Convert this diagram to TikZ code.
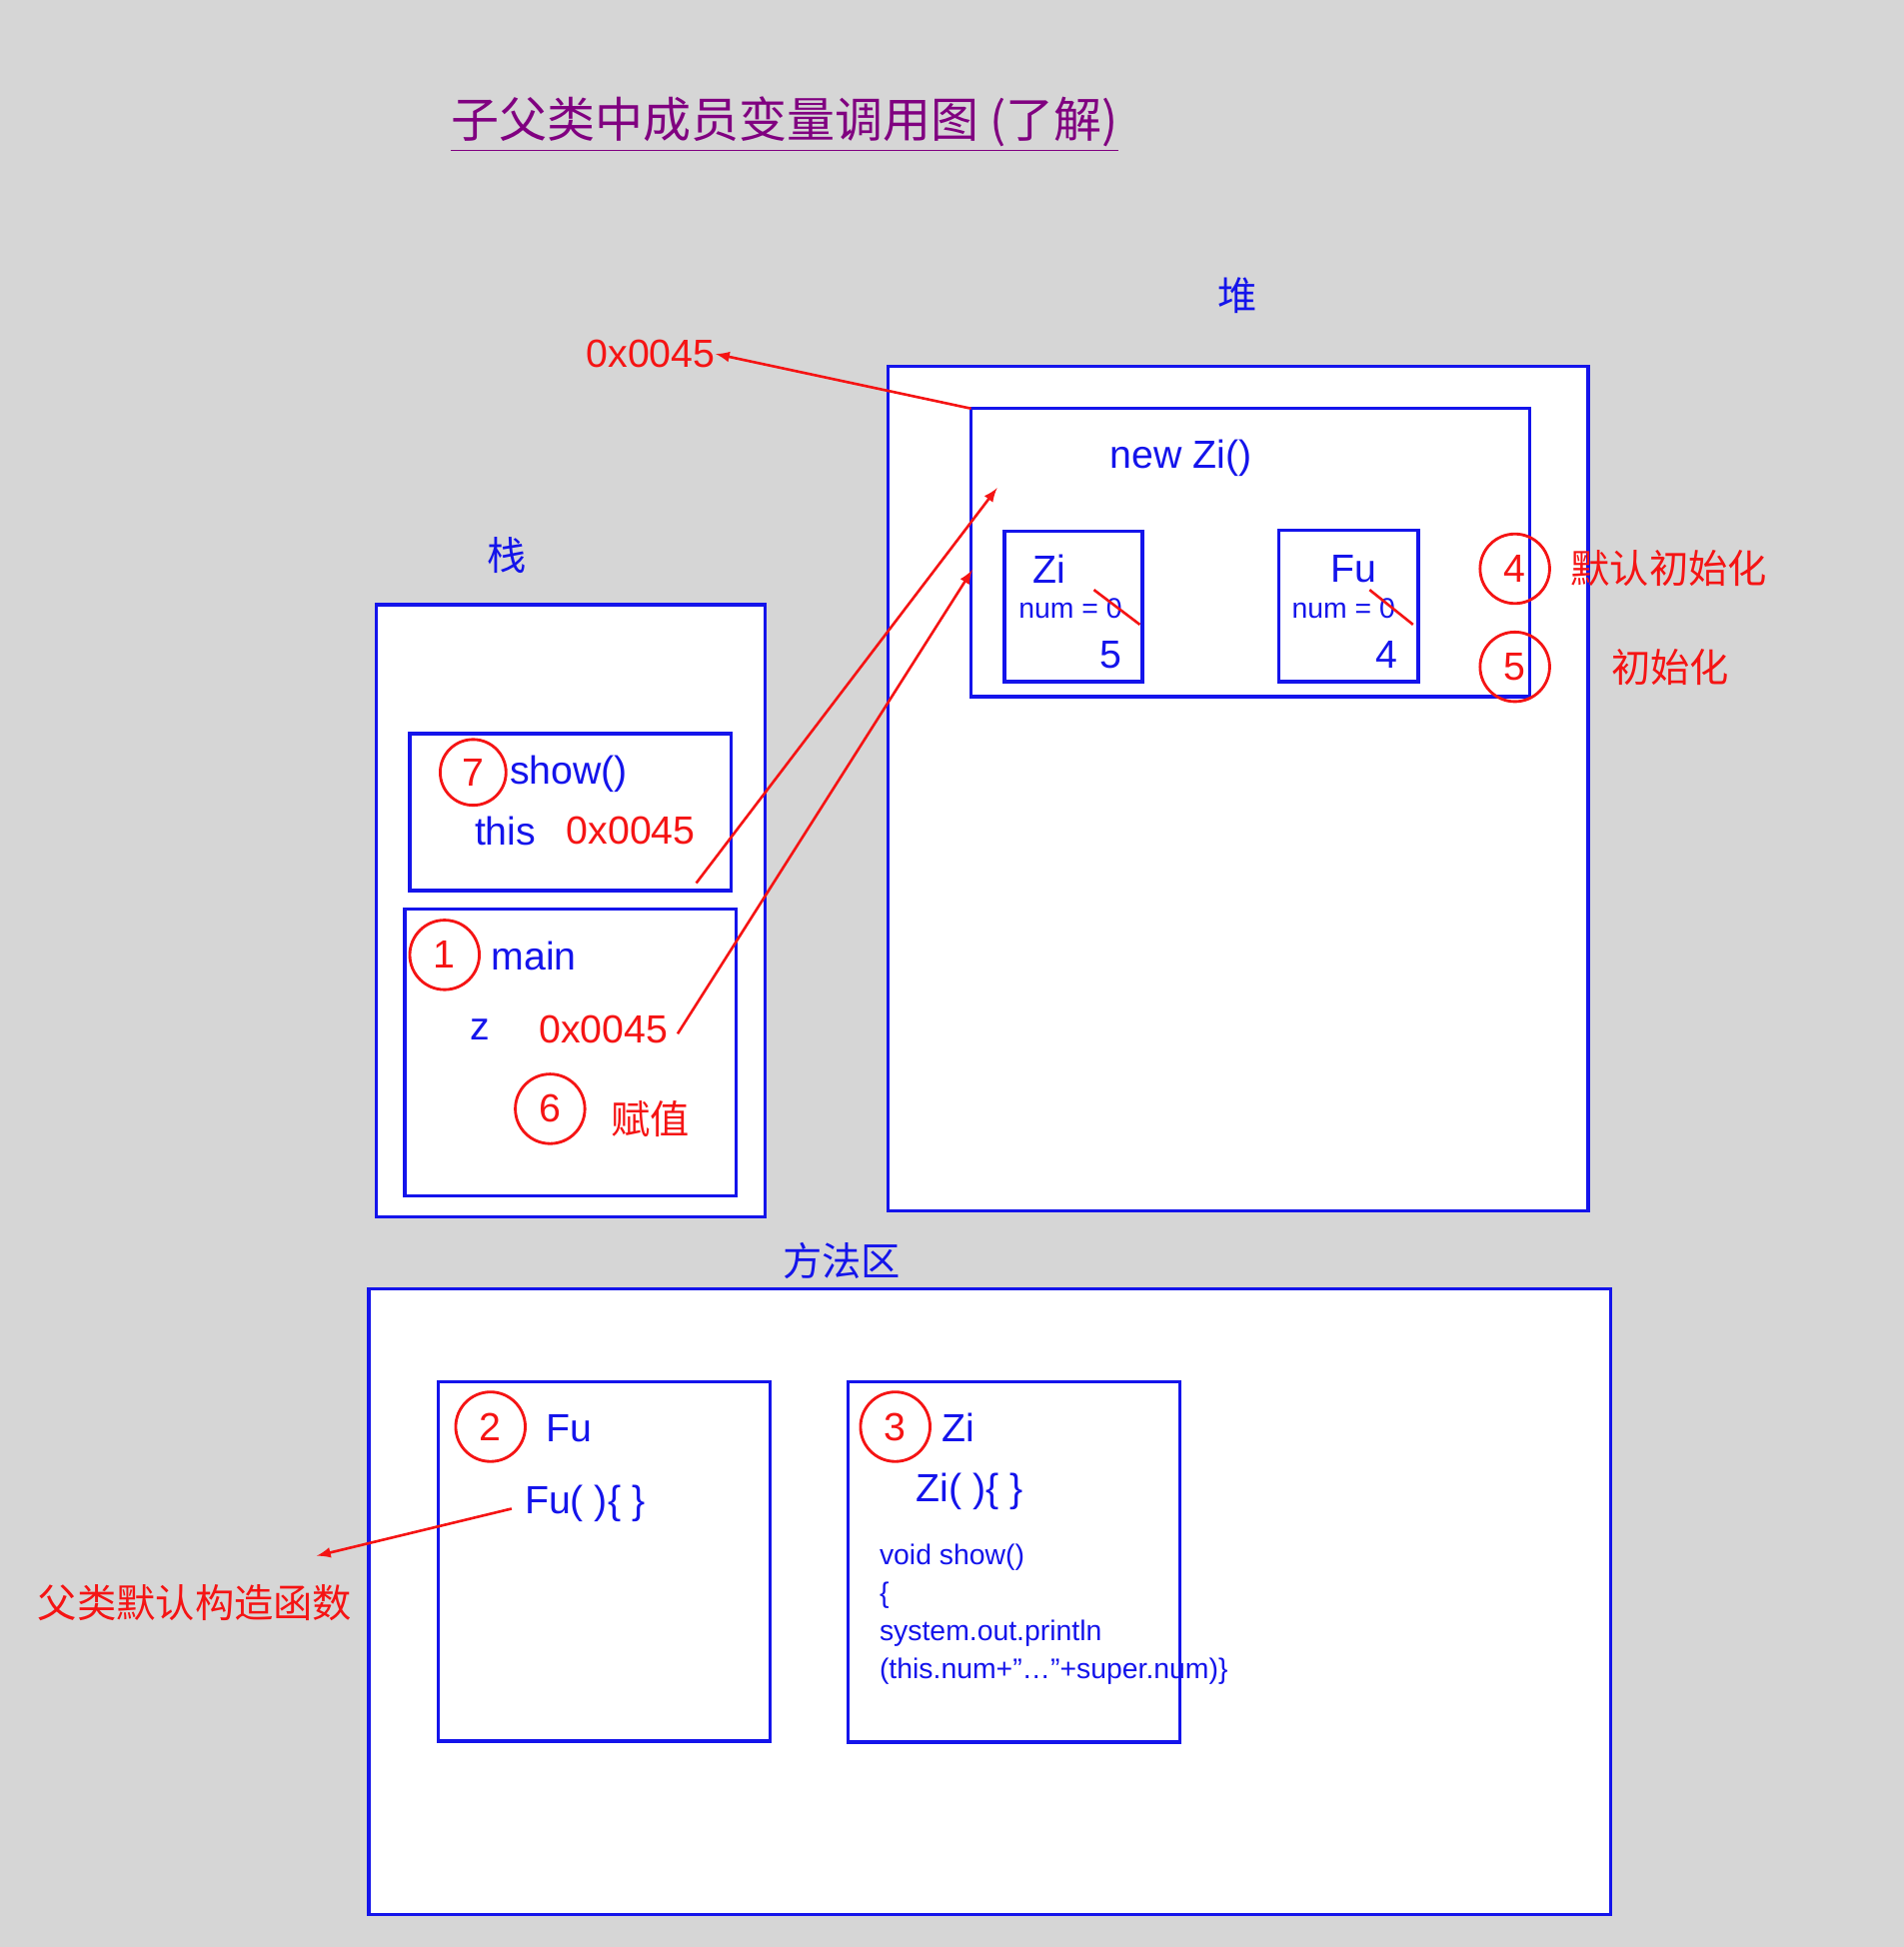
\documentclass[tikz,border=0pt]{standalone}
\usepackage{fontspec}
\setmainfont{Liberation Sans}
\newfontfamily\cjk{Noto Sans CJK SC}
\usetikzlibrary{positioning}
\definecolor{bgray}{RGB}{214,214,214}
\definecolor{mblue}{RGB}{20,20,235}
\definecolor{mred}{RGB}{245,20,20}
\definecolor{mpurple}{RGB}{128,0,128}
\begin{document}
\begin{tikzpicture}[x=0.02cm,y=-0.02cm]

  \tikzstyle{frame}=[draw=mblue,line width=1.6pt,fill=white]
  \tikzstyle{txt}=[text=mblue,font=\fontsize{18}{20}\selectfont,inner sep=0pt]
  \tikzstyle{small}=[text=mblue,font=\fontsize{13}{15}\selectfont,inner sep=0pt]
  \tikzstyle{rtxt}=[text=mred,font=\fontsize{18}{20}\selectfont,inner sep=0pt]
  \tikzstyle{num}=[circle,draw=mred,line width=1.3pt,text=mred,minimum size=1.12cm,inner sep=0pt,font=\fontsize{18}{20}\selectfont]
  \tikzstyle{ptr}=[draw=mred,line width=1.2pt,-latex]

  \fill [bgray] (0,0) rectangle (1533,1568);

  \node (title) at (632,100) [text=mpurple,font=\cjk\fontsize{22}{24}\selectfont] {\underline{子父类中成员变量调用图 (了解)}};

  % heap
  \node (heaplbl) at (997,238) [txt,font=\cjk\fontsize{18}{20}\selectfont] {堆};
  \draw [frame] (715,295) rectangle (1279,975);
  \draw [frame] (782,329) rectangle (1232,561);
  \coordinate (obj) at (782,329);
  \coordinate (objin1) at (803,393);
  \coordinate (objin2) at (783,459);
  \node (newzi) at (951,369) [txt] {new Zi()};
  \draw [frame] (809,428) rectangle (920,549);
  \draw [frame] (1030,427) rectangle (1142,549);
  \node (zi) at (845,458) [txt] {Zi};
  \node (zinum) at (862,490) [small] {num = 0};
  \node (zival) at (895,527) [txt] {5};
  \draw [mred,line width=1.2pt] (881,475) -- (918,503);
  \node (fu) at (1090,458) [txt] {Fu};
  \node (funum) at (1082,490) [small] {num = 0};
  \node (fuval) at (1117,527) [txt] {4};
  \draw [mred,line width=1.2pt] (1103,475) -- (1138,503);
  \node (c4) at (1220,458) [num] {4};
  \node (c5) at (1220,537) [num] {5};
  \node (c4lbl) at (1344,458) [rtxt,font=\cjk\fontsize{18}{20}\selectfont] {默认初始化};
  \node (c5lbl) at (1345,537) [rtxt,font=\cjk\fontsize{18}{20}\selectfont] {初始化};
  \node (addr) at (524,285) [rtxt] {0x0045};
  \draw [ptr] (obj) to (addr.east);

  % stack
  \node (stacklbl) at (408,447) [txt,font=\cjk\fontsize{18}{20}\selectfont] {栈};
  \draw [frame] (303,487) rectangle (616,980);
  \draw [frame] (330,591) rectangle (589,717);
  \node (c7) at (381,622) [num,minimum size=1.06cm] {7};
  \node (show) at (458,623) [txt] {show()};
  \node (this) at (407,669) [txt] {this};
  \node (thisaddr) at (508,669) [rtxt] {0x0045};
  \draw [frame] (326,732) rectangle (593,963);
  \node (c1) at (358,769) [num] {1};
  \node (main) at (430,770) [txt] {main};
  \node (z) at (387,829) [txt] {z};
  \node (zaddr) at (486,829) [rtxt] {0x0045};
  \node (c6) at (443,893) [num] {6};
  \node (c6lbl) at (524,901) [rtxt,font=\cjk\fontsize{18}{20}\selectfont] {赋值};
  \draw [ptr] ([xshift=30pt,yshift=-24pt]thisaddr.center) to (objin1);
  \draw [ptr] ([xshift=34pt,yshift=-2pt]zaddr.center) to (objin2);

  % method area
  \node (methlbl) at (678,1015) [txt,font=\cjk\fontsize{18}{20}\selectfont] {方法区};
  \draw [frame] (297,1038) rectangle (1297,1542);
  \draw [frame] (353,1113) rectangle (620,1402);
  \node (c2) at (395,1149) [num] {2};
  \node (fucls) at (458,1150) [txt] {Fu};
  \node (fuctor) at (471,1211) [txt] {Fu( )\{ \}};
  \node (fulbl) at (157,1291) [rtxt,font=\cjk\fontsize{18}{20}\selectfont] {父类默认构造函数};
  \coordinate (fufrom) at (412,1215);
  \coordinate (futo) at (255,1253);
  \draw [ptr] (fufrom) to (futo);
  \draw [frame] (683,1113) rectangle (950,1403);
  \node (c3) at (721,1149) [num] {3};
  \node (zicls) at (772,1150) [txt] {Zi};
  \node (zictor) at (781,1201) [txt] {Zi( )\{ \}};
  \node (code) at (708,1300) [small,anchor=west,align=left,font=\fontsize{13}{17.5}\selectfont] {void show()\\\{\\system.out.println\\(this.num+”…”+super.num)\}};

\end{tikzpicture}
\end{document}
